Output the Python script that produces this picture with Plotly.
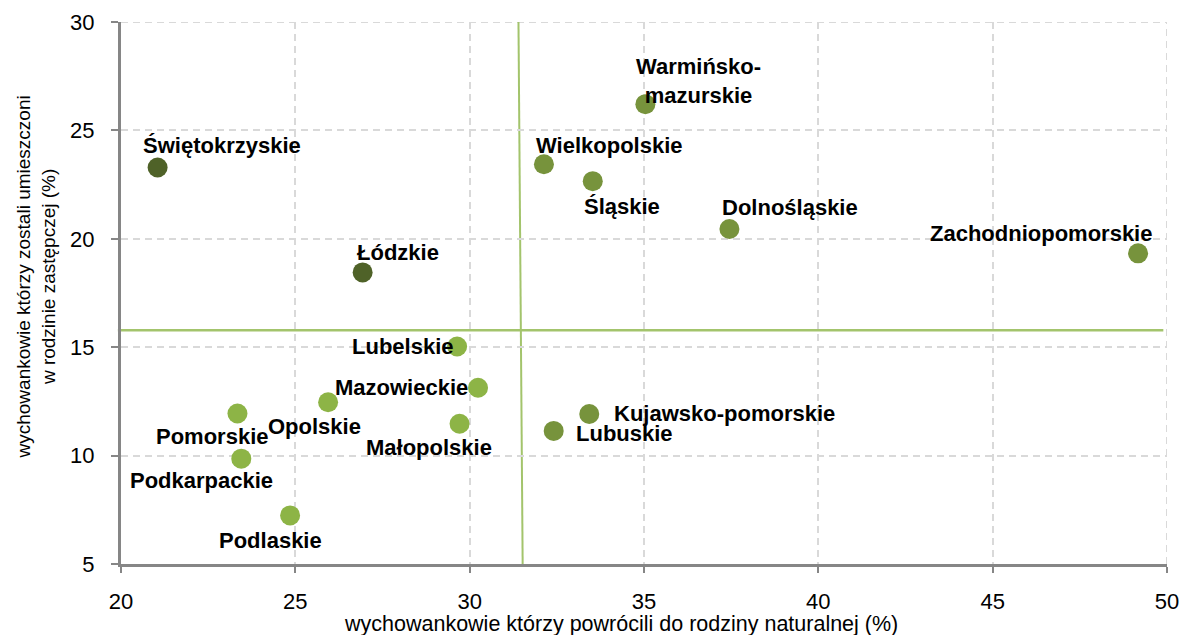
import plotly.graph_objects as go

# ---- data ----
regions = ["Świętokrzyskie", "Łódzkie", "Warmińsko-<br>mazurskie", "Wielkopolskie", "Śląskie",
           "Dolnośląskie", "Zachodniopomorskie", "Lubelskie", "Mazowieckie", "Opolskie",
           "Pomorskie", "Małopolskie", "Podkarpackie", "Podlaskie", "Kujawsko-pomorskie", "Lubuskie"]
returned_pct = [21.05, 26.93, 35.04, 32.13, 33.53, 37.45, 49.17, 29.64, 30.24, 25.94,
                23.34, 29.71, 23.45, 24.85, 33.43, 32.41]
foster_pct = [23.29, 18.45, 26.21, 23.44, 22.66, 20.45, 19.33, 15.03, 13.13, 12.46,
              11.94, 11.47, 9.86, 7.24, 11.92, 11.14]
group = ["dark", "dark", "mid", "mid", "mid", "mid", "mid", "light", "light", "light",
         "light", "light", "light", "light", "mid", "mid"]

# reference (average) lines
avg_returned_top = 31.40
avg_returned_bottom = 31.52
avg_foster = 15.78

x_ticks = [20, 25, 30, 35, 40, 45, 50]
y_ticks = [5, 10, 15, 20, 25, 30]
x_range = [20, 50]
y_range = [5, 30]

# ---- style ----
group_colors = {"dark": "#4F6228", "mid": "#77933C", "light": "#8DB446"}
# label offsets in pixels (dx right, dy down) and anchor
label_pos = [(64, -22, "center"), (35, -20, "center"), (53, -23, "center"), (66, -19, "center"),
             (29, 25, "center"), (61, -22, "center"), (-97, -20, "center"), (-2, 0, "right"),
             (-8, 0, "right"), (-14, 24, "center"), (-25, 23, "center"), (-31, 24, "center"),
             (-40, 22, "center"), (-20, 25, "center"), (23, 0, "left"), (20, 3, "left")]

FONT = "Liberation Sans, Arial, sans-serif"
GRID = "#D9D9D9"

fig = go.Figure()
fig.add_trace(go.Scatter(
    x=returned_pct, y=foster_pct, mode="markers",
    marker=dict(size=20, color=[group_colors[g] for g in group], line=dict(width=0)),
    hoverinfo="skip", showlegend=False, cliponaxis=False,
))

# dashed border at the right and top (as gridlines)
fig.add_shape(type="line", xref="x", yref="y", x0=x_range[1], x1=x_range[1], y0=y_range[0],
              y1=y_range[1], line=dict(color=GRID, width=2, dash="7px,5px"), layer="below")
fig.add_shape(type="line", xref="x", yref="y", x0=x_range[0], x1=x_range[1], y0=y_range[1],
              y1=y_range[1], line=dict(color=GRID, width=2, dash="7px,5px"), layer="below")

# reference lines
fig.add_shape(type="line", xref="x", yref="y", x0=avg_returned_top, y0=y_range[1],
              x1=avg_returned_bottom, y1=y_range[0], line=dict(color="#A3C46C", width=2),
              layer="below")
fig.add_shape(type="line", xref="paper", yref="y", x0=-0.003, y0=avg_foster,
              x1=0.9965, y1=avg_foster, line=dict(color="#A3C46C", width=2.5), layer="below")

for name, xv, yv, (dx, dy, anc) in zip(regions, returned_pct, foster_pct, label_pos):
    fig.add_annotation(x=xv, y=yv, text="<b>" + name + "</b>", showarrow=False,
                       xshift=dx, yshift=-dy, xanchor=anc, yanchor="middle",
                       font=dict(family=FONT, size=22, color="#000000"))

# axis titles
fig.add_annotation(xref="paper", yref="paper", x=0.478, y=-0.111,
                   text="wychowankowie którzy powrócili do rodziny naturalnej (%)",
                   showarrow=False, xanchor="center", yanchor="middle",
                   font=dict(family=FONT, size=21.5, color="#000000"))
fig.add_annotation(xref="paper", yref="paper", x=-0.0815, y=0.53,
                   text="wychowankowie którzy zostali umieszczoni<br>w rodzinie zastępczej (%)",
                   showarrow=False, xanchor="center", yanchor="middle", textangle=-90,
                   font=dict(family=FONT, size=19, color="#000000"))

fig.update_xaxes(range=x_range, tickvals=x_ticks, showgrid=True, gridcolor=GRID,
                 griddash="7px,5px", gridwidth=2, showline=True, linecolor="#868686",
                 linewidth=3, ticks="outside", ticklen=6, tickwidth=2, tickcolor="#868686",
                 tickfont=dict(family=FONT, size=22, color="#000000"), zeroline=False,
                 ticklabelstandoff=10, automargin=False)
fig.update_yaxes(range=y_range, tickvals=y_ticks, showgrid=True, gridcolor=GRID,
                 griddash="7px,5px", gridwidth=2, showline=True, linecolor="#868686",
                 linewidth=3, ticks="outside", ticklen=7, tickwidth=2, tickcolor="#868686",
                 tickfont=dict(family=FONT, size=22, color="#000000"), zeroline=False,
                 ticklabelstandoff=12, automargin=False)

fig.update_layout(width=1181, height=635, plot_bgcolor="white", paper_bgcolor="white",
                  margin=dict(l=121, r=14, t=22, b=71, pad=0, autoexpand=False),
                  showlegend=False)

fig.write_html("out.html", config={"displayModeBar": False},
               post_script="document.body.style.margin='0';document.body.style.overflow='hidden';")
